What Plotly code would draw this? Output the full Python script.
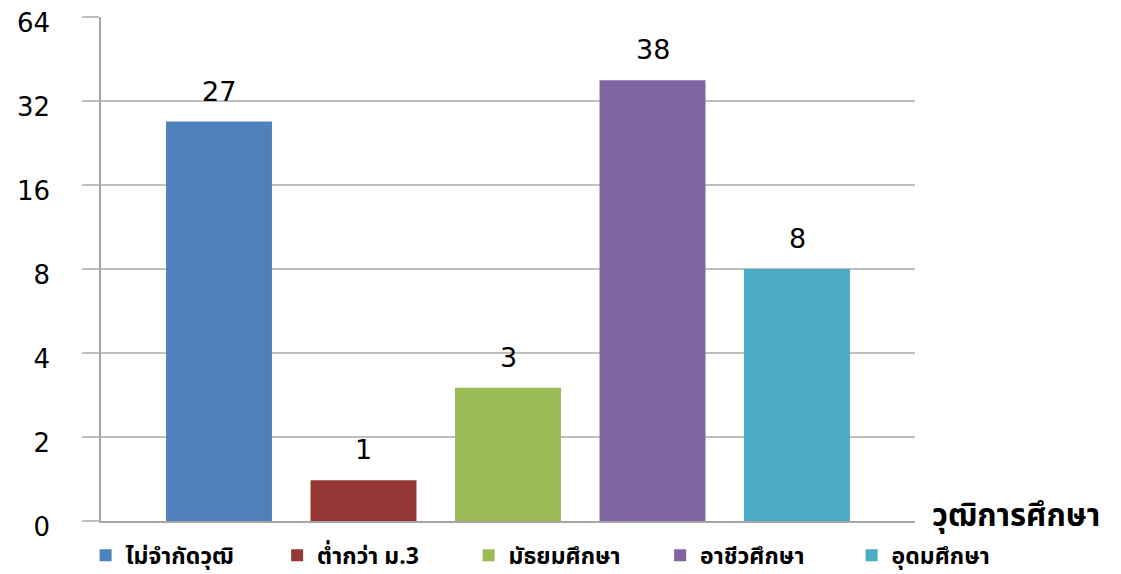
import math
import plotly.graph_objects as go

series = ["ไม่จำกัดวุฒิ", "ต่ำกว่า ม.3", "มัธยมศึกษา", "อาชีวศึกษา", "อุดมศึกษา"]
values = [27, 1.4, 3, 38, 8]
colors = ["#4F81BD", "#953735", "#9BBB59", "#8064A2", "#4BACC6"]
ytick_vals = [1, 2, 4, 8, 16, 32, 64]
ytick_text = ["0", "2", "4", "8", "16", "32", "64"]
axis_title = "วุฒิการศึกษา"

FONT = "Tahoma, 'Noto Sans Thai', 'Loma', 'Garuda', 'DejaVu Sans', sans-serif"

fig = go.Figure()
for name, v, c in zip(series, values, colors):
    fig.add_trace(go.Bar(
        x=[name], y=[v], name=name,
        marker=dict(color=c, line=dict(width=0)),
    ))
    fig.add_annotation(
        x=name, y=math.log10(v), text=f"{v:.0f}", showarrow=False,
        yanchor="bottom", yshift=13,
        font=dict(family="DejaVu Sans", size=27, color="#000000"),
    )

fig.add_annotation(
    xref="paper", yref="paper", x=1, y=0, text=axis_title, showarrow=False,
    xanchor="left", yanchor="middle", xshift=15, yshift=5,
    font=dict(family=FONT, size=31, color="#000000", weight="bold"),
)

fig.update_layout(
    width=1113, height=566,
    margin=dict(l=93, r=206, t=9, b=53, autoexpand=False),
    plot_bgcolor="white", paper_bgcolor="white",
    barmode="overlay",
    bargap=0.267,
    showlegend=True,
    legend=dict(
        orientation="h", x=1.158, xanchor="right", y=-0.068, yanchor="middle",
        font=dict(family=FONT, size=23, color="#000000", weight="bold"),
        itemwidth=30, traceorder="normal",
        entrywidth=146.5, entrywidthmode="pixels",
        bgcolor="rgba(0,0,0,0)",
    ),
    xaxis=dict(
        type="category", range=[-0.8165, 4.8165],
        showticklabels=False, showgrid=False, zeroline=False,
        showline=True, linecolor="#A6A6A6", linewidth=1.5,
        ticks="", automargin=False,
    ),
    yaxis=dict(
        type="log", range=[0, math.log10(64)],
        tickvals=ytick_vals, ticktext=ytick_text,
        tickfont=dict(family="DejaVu Sans", size=26, color="#000000"),
        showgrid=True, gridcolor="#BFBFBF", gridwidth=1.5,
        showline=True, linecolor="#A6A6A6", linewidth=1.5,
        ticks="outside", ticklen=17, tickcolor="#BFBFBF", tickwidth=1.5,
        ticklabelstandoff=27, ticklabelshift=6, ticklabeloverflow="allow",
        zeroline=False, automargin=False,
    ),
)

fig.write_html("out.html")
